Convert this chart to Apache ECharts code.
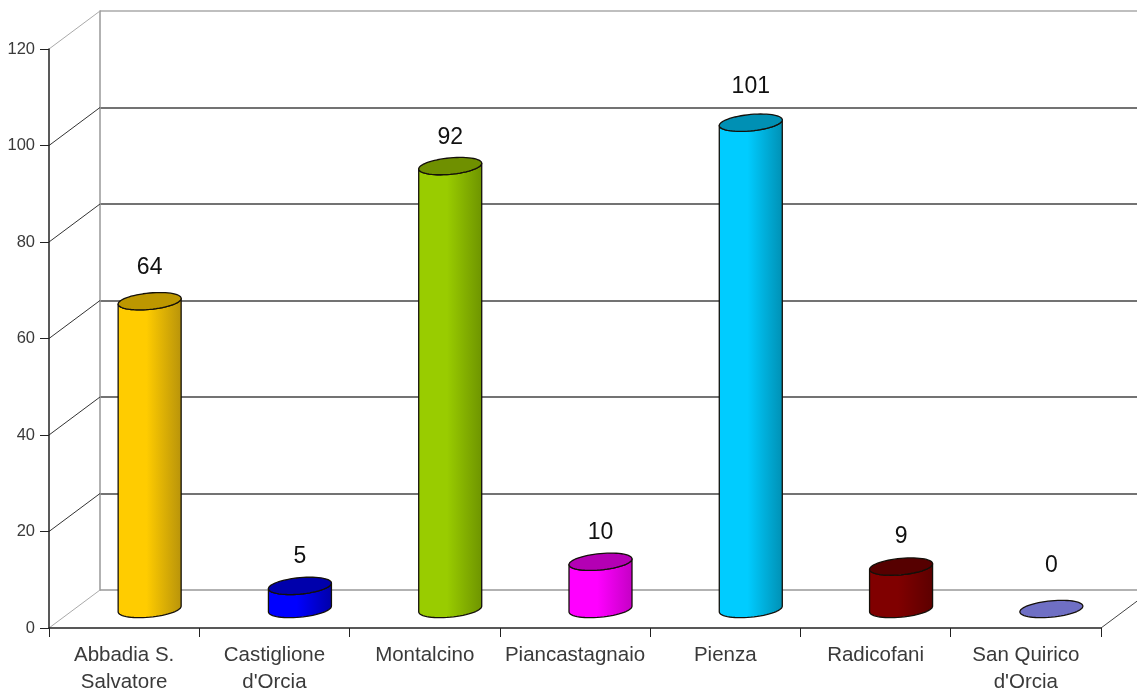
<!DOCTYPE html>
<html><head><meta charset="utf-8">
<style>html,body{margin:0;padding:0;background:#fff}#c{width:1137px;height:690px}</style>
<script src="https://cdn.jsdelivr.net/npm/echarts@6/dist/echarts.min.js"></script>
</head><body><div id="c"></div>
<script>
const categories = ['Abbadia S.\nSalvatore', "Castiglione\nd'Orcia", 'Montalcino', 'Piancastagnaio', 'Pienza', 'Radicofani', "San Quirico\nd'Orcia"];
const values = [64, 5, 92, 10, 101, 9, 0];
const yTicks = [0, 20, 40, 60, 80, 100, 120];
const bodyLight = ['#ffcc00', '#0000ff', '#99cc00', '#ff00ff', '#00ccff', '#800000', '#6f6fc4'];
const bodyDark = ['#b8930a', '#0000a8', '#6e9400', '#c400c4', '#0090b4', '#5c0000', '#6f6fc4'];
const capColor = ['#bd9700', '#0000ac', '#6f9000', '#b400b4', '#0090b4', '#560000', '#6f6fc4'];
const labelLift = [34, 29, 28, 29, 36, 30, 43];

const DX = 51, DY = 38, A = 31.5, B = 8.2, K = 0.09, TOP_NUDGE = 1, FONT = '"Liberation Sans", Arial, sans-serif';
function ell(cx, cy, t0, t1, n) {
  const p = [];
  for (let i = 0; i <= n; i++) {
    const t = t0 + (t1 - t0) * i / n;
    p.push([cx + A * Math.cos(t), cy + B * Math.sin(t) - K * A * Math.cos(t)]);
  }
  return p;
}
const outline = '#14100a';
function renderCyl(params, api) {
  const i = api.value(0), v = api.value(1);
  const base = api.coord([i, 0]), top = api.coord([i, v]);
  const cx = base[0] + DX / 2, by = base[1] - DY / 2, ty = top[1] - DY / 2 + (v > 0 ? TOP_NUDGE : 0);
  const children = [];
  if (v > 0) {
    const body = ell(cx, by, 0, Math.PI, 30).concat(ell(cx, ty, Math.PI, 0, 30));
    children.push({
      type: 'polygon', shape: { points: body },
      style: {
        fill: new echarts.graphic.LinearGradient(0, 0, 1, 0, [
          { offset: 0, color: bodyLight[i] },
          { offset: 0.45, color: bodyLight[i] },
          { offset: 1, color: bodyDark[i] }
        ]), stroke: outline, lineWidth: 1.3, lineJoin: 'round'
      }
    });
  }
  children.push({
    type: 'polygon', shape: { points: ell(cx, ty, 0, Math.PI * 2, 60) },
    style: { fill: capColor[i], stroke: outline, lineWidth: 1.3, lineJoin: 'round' }
  });
  children.push({
    type: 'text',
    style: { x: cx, y: ty - labelLift[i], text: String(v), align: 'center', verticalAlign: 'middle',
      fill: '#111', font: '23px ' + FONT }
  });
  return { type: 'group', children };
}
function renderWall(params, api) {
  const v = api.value(0);
  const p = api.coord([0, v]);
  const x0 = p[0] - api.size([1, 0])[0] / 2;
  const light = v === 0 || v === 120;
  return { type: 'line', shape: { x1: x0, y1: p[1], x2: x0 + DX, y2: p[1] - DY },
    style: { stroke: light ? '#aaa' : '#333', lineWidth: 1 } };
}
function renderFloorEdge(params, api) {
  const p = api.coord([6, 0]);
  const x = p[0] + api.size([1, 0])[0] / 2;
  return { type: 'line', shape: { x1: x, y1: p[1], x2: x + DX, y2: p[1] - DY },
    style: { stroke: '#444', lineWidth: 1 } };
}

const chart = echarts.init(document.getElementById('c'), null, { renderer: 'canvas' });
chart.setOption({
  backgroundColor: '#fff',
  animation: false,
  grid: [
    { left: 49, top: 49, width: 1052, height: 579, outerBoundsMode: 'none' },
    { left: 100, top: 11, width: 1052, height: 579, outerBoundsMode: 'none' }
  ],
  xAxis: [
    { gridIndex: 0, type: 'category', data: categories, z: 5,
      axisLine: { lineStyle: { color: '#222', width: 1.5 } },
      axisTick: { show: true, length: 9, alignWithLabel: false, lineStyle: { color: '#222' } },
      axisLabel: { interval: 0, color: '#3a3a3a', fontFamily: FONT, fontSize: 20.5, lineHeight: 27, margin: 14 } },
    { gridIndex: 1, type: 'category', data: categories, show: false }
  ],
  yAxis: [
    { gridIndex: 0, type: 'value', min: 0, max: 120, interval: 20, z: 5,
      splitLine: { show: false },
      axisLine: { show: true, lineStyle: { color: '#222', width: 1.5 } },
      axisTick: { show: true, length: 9, lineStyle: { color: '#222' } },
      axisLabel: { color: '#3a3a3a', fontFamily: FONT, fontSize: 16.5, margin: 14 } },
    { gridIndex: 1, type: 'value', min: 0, max: 120, interval: 20,
      axisLine: { show: true, lineStyle: { color: '#999', width: 1.5 } },
      axisTick: { show: false }, axisLabel: { show: false },
      splitLine: { show: true, lineStyle: { width: 1.5, color: ['#999', '#444', '#444', '#444', '#444', '#444', '#aaa'] } } }
  ],
  series: [
    { type: 'custom', xAxisIndex: 0, yAxisIndex: 0, clip: false, z: 1, silent: true,
      data: yTicks.map(v => [v]), encode: { y: 0 }, renderItem: renderWall },
    { type: 'custom', xAxisIndex: 0, yAxisIndex: 0, clip: false, z: 1, silent: true,
      data: [[6, 0]], renderItem: renderFloorEdge },
    { type: 'custom', xAxisIndex: 0, yAxisIndex: 0, clip: false, z: 3, silent: true,
      data: values.map((v, i) => [i, v]), encode: { x: 0, y: 1 }, renderItem: renderCyl }
  ]
});
</script></body></html>
